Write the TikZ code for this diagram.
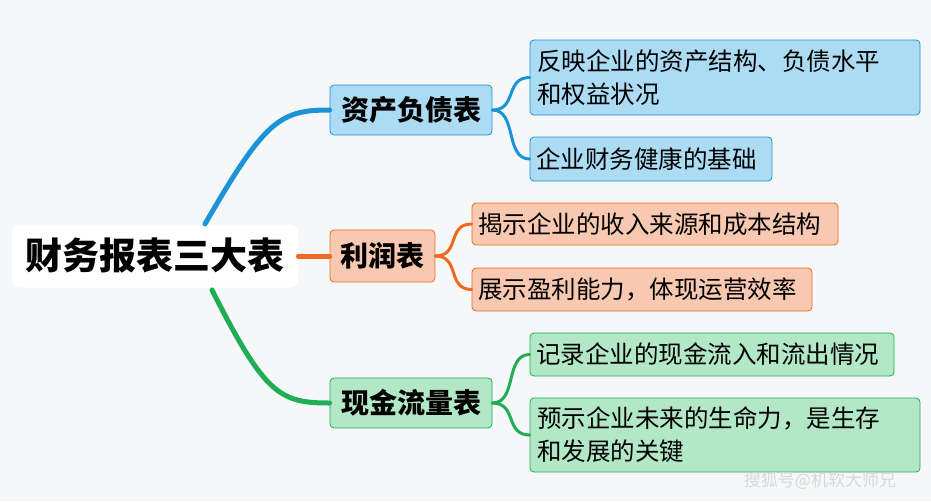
\documentclass[tikz,border=0pt]{standalone}
\usepackage{fontspec}
\setmainfont{Noto Sans CJK SC}
\begin{document}
\begin{tikzpicture}[x=1pt,y=-1pt,
 box/.style={draw,rounded corners=4pt,line width=0.8pt,inner sep=0pt},
 leaf/.style={box,align=left,font=\fontsize{24.5}{33}\selectfont},
 br/.style={box,font=\bfseries\fontsize{28}{30}\selectfont},
 ln/.style={line width=5pt,line cap=round},
 lf/.style={line width=3pt,line cap=round}]
\definecolor{bgc}{HTML}{F6F7F9}
\definecolor{bl}{HTML}{1A94D6}\definecolor{blf}{HTML}{ACDCF4}
\definecolor{og}{HTML}{EE6A1E}\definecolor{ogf}{HTML}{F8C9B0}
\definecolor{gn}{HTML}{1FAE55}\definecolor{gnf}{HTML}{B2E8C6}
\fill[bgc] (0,0) rectangle (931,501);
\useasboundingbox (0,0) rectangle (931,501);
\coordinate (r1) at (205,224);\coordinate (r3) at (212,290);
\node[box,draw=none,fill=white,rounded corners=8pt,minimum width=286pt,minimum height=63pt,font=\bfseries\fontsize{37}{40}\selectfont] (root) at (155,256) {财务报表三大表};
\node[br,draw=bl,fill=blf,minimum width=162pt,minimum height=50pt] (b1) at (411,110) {资产负债表};
\node[br,draw=og,fill=ogf,minimum width=105pt,minimum height=52pt] (b2) at (382.5,256) {利润表};
\node[br,draw=gn,fill=gnf,minimum width=162pt,minimum height=50pt] (b3) at (411,403) {现金流量表};
\draw[ln,bl] (r1) .. controls (265,120) and (280,110) .. (b1.west);
\draw[ln,og] (root.east) -- (b2.west);
\draw[ln,gn] (r3) .. controls (265,395) and (280,403) .. (b3.west);
\node[leaf,draw=bl,fill=blf,minimum width=390pt,minimum height=75pt,text width=376pt] (l1) at (725,77.5) {反映企业的资产结构、负债水平\\和权益状况};
\node[leaf,draw=bl,fill=blf,minimum width=242pt,minimum height=44pt,text width=230pt] (l2) at (651,159) {企业财务健康的基础};
\node[leaf,draw=og,fill=ogf,minimum width=366pt,minimum height=42pt,text width=354pt] (l3) at (655,224) {揭示企业的收入来源和成本结构};
\node[leaf,draw=og,fill=ogf,minimum width=340pt,minimum height=43pt,text width=328pt] (l4) at (642,289.5) {展示盈利能力，体现运营效率};
\node[leaf,draw=gn,fill=gnf,minimum width=364pt,minimum height=43pt,text width=352pt] (l5) at (712,354.5) {记录企业的现金流入和流出情况};
\node[leaf,draw=gn,fill=gnf,minimum width=390pt,minimum height=74pt,text width=376pt] (l6) at (725,435) {预示企业未来的生命力，是生存\\和发展的关键};
\foreach \b/\l/\c in {b1/l1/bl,b1/l2/bl,b3/l5/gn,b3/l6/gn}
 \draw[lf,\c] (\b.east) .. controls +(25,0) and +(-25,0) .. (\l.west);
\foreach \l in {l3,l4}
 \draw[lf,og] (b2.east) .. controls +(25,0) and +(-25,0) .. (\l.west);
\node[font=\fontsize{17}{20}\selectfont,text=gray!30!white,inner sep=0pt] (wm) at (820,481) {搜狐号@机软大师兄};
\end{tikzpicture}
\end{document}
